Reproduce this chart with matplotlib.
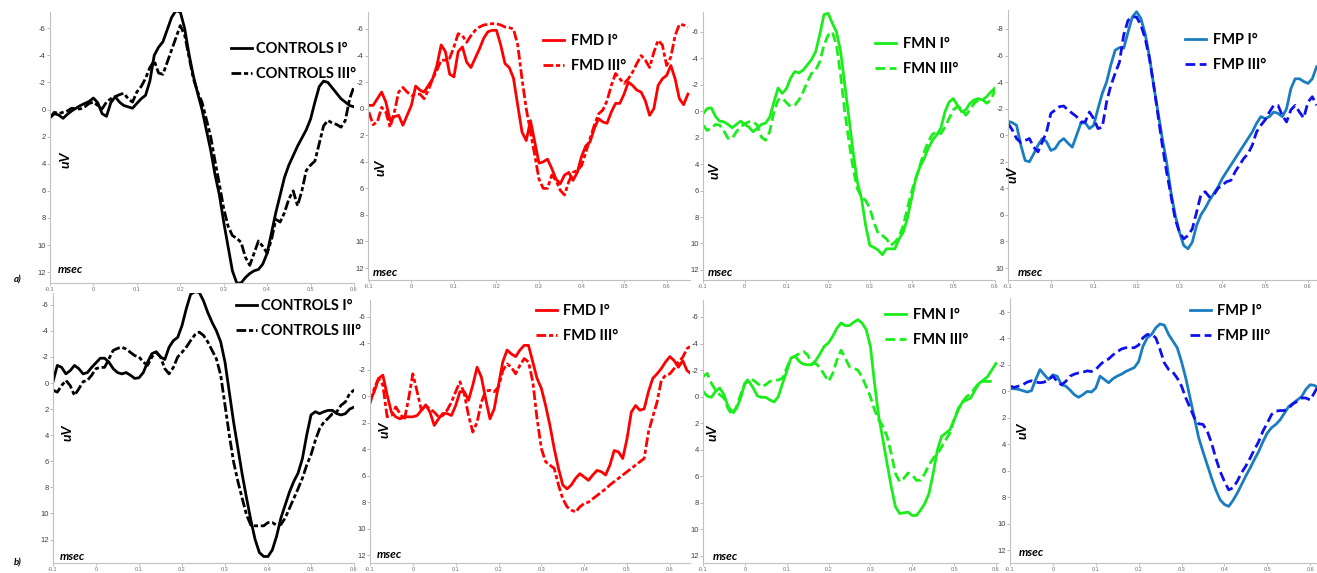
import numpy as np
import matplotlib
matplotlib.use('Agg')
import matplotlib.pyplot as plt
from matplotlib.font_manager import FontProperties

plt.rcParams['font.family'] = ['Liberation Sans', 'DejaVu Sans']
plt.rcParams['axes.unicode_minus'] = False

W, H = 1317, 573
t0, dt = -0.10, 0.01   # first sample time and step (s)

# ---- row a) ----
ctrl_a_I = [0.6, 0.3, 0.4, 0.65, 0.35, 0.1, -0.1, -0.3, -0.45, -0.6,
            -0.85, -0.5, 0.3, 0.5, -0.5, -0.95, -0.55, -0.3, -0.2, -0.1,
            -0.45, -0.8, -1.05, -2.1, -4.0, -4.6, -5.0, -5.9, -6.8, -7.3,
            -7.2, -6.0, -4.1, -2.5, -1.2, 0.0, 1.5, 3.0, 4.8, 6.3,
            8.3, 10.1, 11.9, 12.8, 12.8, 12.4, 12.1, 11.9, 11.8, 11.4,
            10.6, 9.1, 7.6, 6.3, 5.0, 4.1, 3.4, 2.7, 2.1, 1.5,
            0.7, -0.55, -1.7, -2.1, -2.0, -1.6, -1.2, -0.8, -0.55, -0.3,
            -0.2]
ctrl_a_III = [0.6, 0.2, 0.3, 0.2, 0.1, -0.1, -0.05, -0.05, -0.2, -0.45,
              -0.55, -0.3, -0.05, -0.55, -0.8, -0.95, -1.1, -1.2, -0.8, -0.55,
              -1.3, -1.7, -2.3, -3.1, -3.6, -2.7, -2.6, -3.5, -4.4, -5.3,
              -6.2, -5.5, -3.9, -2.3, -1.3, -0.55, 0.7, 2.0, 3.8, 5.5,
              7.3, 8.6, 9.3, 9.5, 9.8, 10.9, 11.5, 10.6, 9.7, 10.1,
              10.6, 9.6, 8.1, 8.3, 7.6, 6.6, 6.0, 7.1, 6.0, 4.5,
              4.1, 3.8, 2.5, 1.2, 0.8, 1.0, 1.1, 1.3, 0.8, -0.8,
              -1.7]
fmd_a_I = [-0.25, -0.25, -0.75, -1.25, -0.5, 0.9, 0.6, 0.5, 1.25, 0.5,
           -0.25, -1.7, -1.4, -1.25, -1.75, -2.25, -3.25, -4.8, -4.3, -2.6,
           -2.4, -4.3, -4.65, -3.5, -3.1, -3.8, -4.5, -5.3, -5.8, -5.9,
           -5.9, -4.8, -3.4, -3.1, -2.3, -0.25, 1.75, 2.4, 0.9, 2.5,
           4.1, 4.0, 3.8, 4.5, 5.3, 5.65, 5.0, 4.8, 5.4, 4.8,
           3.6, 2.8, 2.5, 1.5, 0.75, 1.0, 1.1, 0.25, -0.4, -0.4,
           -1.1, -2.0, -1.75, -1.4, -1.25, -0.6, 0.5, 0.0, -1.75, -2.25,
           -2.5, -3.25, -2.25, -0.75, -0.3, -1.1]
fmd_a_III = [0.25, 1.2, 1.0, -0.1, 0.25, 1.4, 0.25, -1.25, -1.6, -1.25,
             -1.0, -1.1, -1.1, -0.75, -1.4, -2.25, -2.9, -3.65, -3.65, -3.8,
             -4.65, -5.65, -5.5, -5.0, -5.5, -5.9, -6.15, -6.3, -6.35, -6.4,
             -6.4, -6.3, -6.15, -6.1, -6.0, -4.8, -2.25, 0.0, 1.75, 3.5,
             5.3, 6.0, 6.0, 5.0, 5.4, 6.15, 6.5, 5.5, 4.8, 4.65,
             4.3, 3.3, 2.25, 1.25, 0.4, 0.1, -0.6, -1.75, -2.65, -2.25,
             -1.9, -2.25, -2.75, -3.4, -4.0, -3.65, -3.1, -4.25, -5.15, -4.8,
             -3.25, -3.9, -5.5, -6.35, -6.3, -6.15]
fmn_a_I = [0.2, -0.2, -0.25, 0.4, 0.75, 0.8, 1.0, 1.25, 1.0, 0.75,
           1.0, 1.2, 1.55, 1.3, 1.0, 0.9, 0.45, -0.7, -1.75, -1.35,
           -1.7, -2.5, -3.0, -2.9, -3.1, -3.5, -3.9, -4.5, -5.8, -7.3,
           -7.4, -6.65, -6.0, -4.5, -2.0, 0.55, 3.1, 5.35, 6.6, 8.65,
           10.15, 10.3, 10.5, 10.85, 10.4, 10.4, 10.4, 9.65, 9.15, 8.1,
           6.6, 5.1, 4.2, 3.6, 2.8, 2.2, 1.8, 1.3, 0.05, -0.7,
           -0.95, -0.45, 0.05, -0.1, -0.6, -0.85, -0.95, -0.85, -1.1, -1.45,
           -1.75]
fmn_a_III = [1.05, 1.45, 1.3, 1.0, 1.05, 1.5, 2.05, 2.05, 1.55, 1.2,
             0.95, 0.8, 0.8, 1.05, 1.95, 2.2, 1.55, 0.05, -0.85, -1.0,
             -0.65, -0.35, -0.45, -0.85, -1.45, -2.2, -2.85, -3.1, -3.75, -5.0,
             -5.75, -6.0, -5.0, -2.7, 0.05, 2.3, 4.35, 5.85, 6.5, 6.75,
             7.35, 8.4, 9.25, 9.4, 9.65, 10.15, 9.9, 9.5, 8.65, 7.35,
             6.1, 5.1, 4.1, 3.1, 2.3, 1.75, 1.55, 1.7, 1.2, 0.55,
             -0.1, -0.35, -0.2, 0.3, -0.1, -0.6, -0.85, -0.9, -0.6, -0.85,
             -1.6]
fmp_a_I = [-1.05, -0.95, -0.75, 0.75, 1.9, 2.0, 1.4, 0.75, 0.25, 0.5,
           1.15, 1.0, 0.5, 0.25, 0.6, 0.9, 0.0, -0.9, -0.95, -0.5,
           -0.75, -2.0, -3.15, -4.0, -5.3, -6.4, -6.6, -6.55, -7.75, -8.9,
           -9.3, -8.8, -7.65, -5.9, -3.75, -1.75, 0.25, 2.0, 4.25, 6.0,
           7.3, 8.3, 8.55, 8.05, 6.8, 6.0, 5.5, 4.9, 4.4, 3.9,
           3.25, 2.75, 2.25, 1.75, 1.25, 0.75, 0.25, -0.25, -0.9, -1.4,
           -1.25, -1.4, -1.75, -1.65, -1.4, -2.0, -3.5, -4.25, -4.25, -4.05,
           -3.9, -4.25, -5.15]
fmp_a_III = [-0.9, -0.4, 0.25, 0.55, 0.4, 0.25, 0.9, 1.25, 0.5, -0.25,
             -1.65, -1.9, -2.15, -2.2, -1.9, -1.65, -1.4, -1.0, -1.0, -1.75,
             -1.25, -0.5, -0.6, -2.5, -3.75, -4.65, -5.5, -7.55, -8.65, -8.9,
             -8.9, -8.3, -7.3, -5.8, -3.75, -1.5, 0.75, 2.75, 4.5, 6.3,
             7.3, 7.8, 7.55, 7.05, 5.8, 4.5, 4.25, 4.65, 4.5, 4.0,
             3.75, 3.5, 3.4, 2.75, 2.25, 1.75, 1.4, 0.75, -0.25, -0.75,
             -1.15, -1.75, -2.25, -2.25, -1.5, -1.0, -1.9, -2.25, -1.75, -1.3,
             -2.5, -2.9, -2.25]

# ---- row b) ----
ctrl_b_I = [-0.1, -1.35, -1.2, -0.7, -0.95, -1.35, -1.1, -0.7, -0.8, -1.2,
            -1.55, -1.9, -1.9, -1.6, -1.1, -0.8, -0.7, -0.8, -0.6, -0.35,
            -0.4, -0.8, -1.6, -2.25, -2.4, -2.0, -1.8, -2.75, -3.25, -3.5,
            -4.4, -5.7, -6.8, -7.0, -6.95, -6.3, -5.4, -4.65, -4.0, -3.15,
            -1.6, 0.7, 3.0, 5.0, 7.0, 8.8, 10.5, 12.0, 13.0, 13.3,
            13.3, 12.8, 11.75, 10.35, 9.35, 8.35, 7.55, 6.9, 5.8, 4.0,
            2.45, 2.2, 2.35, 2.2, 2.1, 2.1, 2.35, 2.45, 2.35, 2.0,
            1.85, 2.0]
ctrl_b_III = [0.55, 0.7, 0.2, -0.2, 0.2, 0.95, 0.45, -0.1, -0.2, -0.6,
              -1.1, -1.2, -1.2, -1.85, -2.5, -2.65, -2.75, -2.6, -2.35, -2.1,
              -2.0, -1.6, -1.35, -2.0, -2.35, -2.0, -1.1, -0.7, -1.2, -2.0,
              -2.35, -2.75, -3.25, -3.7, -3.9, -3.65, -3.15, -2.5, -1.85, -0.6,
              1.7, 4.0, 6.05, 7.55, 8.85, 10.1, 10.9, 10.95, 10.95, 10.95,
              10.7, 10.7, 10.9, 10.85, 10.35, 9.6, 8.85, 8.1, 7.3, 6.3,
              5.5, 4.4, 3.5, 3.0, 2.7, 2.35, 2.2, 1.7, 1.45, 0.8,
              0.55, 0.95]
fmd_b_I = [0.3, -0.35, -1.35, -1.6, -0.1, 1.2, 1.55, 1.7, 1.55, 1.55,
           1.55, 1.45, 1.05, 0.65, 1.2, 2.2, 1.7, 1.3, 1.3, 1.45,
           0.7, -0.35, -0.35, 0.3, -0.85, -2.2, -1.45, 0.2, 1.7, 0.95,
           -0.85, -2.6, -3.5, -3.2, -3.0, -3.5, -3.85, -3.85, -2.6, -1.35,
           -0.6, 0.7, 2.2, 3.95, 5.45, 6.7, 7.0, 6.7, 6.2, 5.85,
           6.1, 6.35, 5.95, 5.6, 5.7, 5.95, 5.2, 4.1, 4.2, 4.7,
           3.2, 1.2, 0.7, 1.05, 0.95, -0.35, -1.35, -1.7, -2.1, -2.6,
           -3.0, -2.7, -2.2, -2.7, -1.95, -1.7]
fmd_b_III = [0.55, -0.6, -1.35, -0.85, 1.55, 1.45, 0.8, 1.3, 1.8, 0.2,
             -1.7, -0.35, 1.05, 0.7, 0.95, 1.2, 1.55, 1.45, 1.05, 0.45,
             -0.35, -1.1, -0.2, 1.45, 2.7, 1.95, 0.45, -0.4, -0.45, -0.35,
             -0.7, -1.95, -2.45, -2.2, -1.7, -2.35, -2.85, -2.6, -1.1, 1.7,
             3.95, 4.95, 5.2, 5.45, 6.7, 7.75, 8.35, 8.6, 8.75, 8.35,
             8.1, 8.0, 7.75, 7.5, 7.25, 7.0, 6.7, 6.45, 6.2, 5.95,
             5.7, 5.45, 5.2, 4.95, 4.7, 2.7, 1.55, 0.45, -1.2, -1.6,
             -1.7, -2.1, -2.6, -2.95, -3.6, -3.85]
fmn_b_I = [-0.4, -0.05, 0.05, -0.4, -0.65, -0.15, 0.75, 1.15, 0.9, 0.1,
           -1.0, -1.15, -0.65, -0.05, 0.05, 0.05, 0.25, 0.4, 0.0, -1.0,
           -1.9, -2.9, -3.05, -2.65, -2.45, -2.4, -2.4, -2.75, -3.25, -3.8,
           -4.05, -4.55, -5.15, -5.55, -5.35, -5.35, -5.6, -5.8, -5.55, -5.05,
           -3.8, -1.0, 1.5, 3.25, 5.05, 6.8, 8.3, 8.8, 8.75, 8.7,
           8.95, 8.95, 8.55, 8.05, 7.3, 5.8, 4.05, 3.0, 2.75, 2.5,
           1.75, 1.0, 0.4, 0.25, 0.1, -0.5, -1.0, -1.25, -1.5, -2.0,
           -2.5]
fmn_b_III = [-1.5, -1.75, -1.0, -0.5, -0.15, 0.1, 0.9, 1.4, 0.75, -0.15,
             -1.0, -1.4, -1.25, -1.0, -0.75, -0.9, -1.15, -1.25, -1.25, -1.4,
             -2.15, -2.9, -3.05, -3.25, -3.4, -3.15, -2.5, -2.5, -2.15, -1.65,
             -1.15, -1.75, -2.75, -3.5, -2.9, -2.25, -2.15, -2.0, -1.5, -0.75,
             0.0, 1.0, 1.75, 2.25, 3.0, 4.3, 5.8, 6.4, 6.15, 5.75,
             5.9, 6.3, 6.3, 5.8, 5.15, 4.65, 4.3, 3.8, 3.25, 2.75,
             1.75, 0.9, 0.4, 0.0, -0.25, -0.65, -1.05, -1.15, -1.15, -1.15,
             -1.15]
fmp_b_I = [-0.2, -0.2, -0.15, -0.05, 0.05, -0.05, -0.9, -1.65, -1.25, -0.9,
           -1.25, -1.15, -0.5, -0.4, -0.1, 0.25, 0.45, 0.25, 0.0, 0.05,
           -0.25, -1.15, -0.9, -0.65, -0.95, -1.15, -1.3, -1.5, -1.65, -1.8,
           -2.25, -3.4, -4.05, -4.3, -4.8, -5.1, -5.0, -4.3, -3.8, -3.3,
           -2.25, -1.0, 0.5, 2.0, 3.5, 4.55, 5.55, 6.55, 7.45, 8.2,
           8.55, 8.7, 8.25, 7.7, 7.05, 6.4, 5.8, 5.15, 4.55, 3.8,
           3.15, 2.75, 2.5, 2.15, 1.65, 1.15, 0.9, 0.65, 0.4, -0.15,
           -0.5, -0.45, -0.25]
fmp_b_III = [-0.4, -0.3, -0.4, -0.5, -0.7, -0.8, -0.7, -0.65, -0.7, -0.9,
             -1.15, -0.75, -0.5, -0.75, -1.15, -1.3, -1.4, -1.45, -1.55, -1.5,
             -1.65, -2.0, -2.3, -2.45, -2.75, -3.0, -3.2, -3.3, -3.3, -3.3,
             -3.5, -4.05, -4.3, -4.3, -4.05, -3.15, -2.15, -1.65, -1.45, -1.0,
             -0.4, 0.5, 1.25, 2.0, 2.45, 2.5, 3.0, 3.9, 5.05, 6.05,
             6.8, 7.45, 7.3, 6.8, 6.15, 5.65, 5.05, 4.4, 3.8, 3.0,
             2.4, 1.75, 1.5, 1.45, 1.45, 1.25, 0.95, 0.75, 0.5, 0.5,
             0.65, 0.1, -0.5]

group_names = ['CONTROLS', 'FMD', 'FMN', 'FMP']
xtick_vals = [-0.1, 0, 0.1, 0.2, 0.3, 0.4, 0.5, 0.6]
xtick_labels = ['-0.1', '0', '0.1', '0.2', '0.3', '0.4', '0.5', '0.6']

dashdot = (0, (3.5, 1.0, 1.5, 1.0))
dashed = (0, (3.5, 1.6))

# one entry per panel: data, colours, axes box in pixels (x0, x1, top, bottom),
# xlim, ylim (inverted), y ticks, legend anchor (x, top) and label spots
panels = [
    dict(I=ctrl_a_I, III=ctrl_a_III, g=0, c=('#000000', '#000000'), ls=dashdot,
         box=(50, 354, 12, 283), xl=(-0.1, 0.6), yl=(12.8, -7.2), yt=range(-6, 13, 2),
         leg=(231, 42), hp=0.25, uv=(66, 160), ms=(58, 270)),
    dict(I=fmd_a_I, III=fmd_a_III, g=1, c=('#ff0000', '#ff0000'), ls=dashdot,
         box=(368, 690, 12, 280), xl=(-0.102, 0.655), yl=(12.9, -7.28), yt=range(-6, 13, 2),
         leg=(543, 34), hp=0.45, uv=(381, 168), ms=(373, 272)),
    dict(I=fmn_a_I, III=fmn_a_III, g=2, c=('#1aee1a', '#1aee1a'), ls=dashed,
         box=(703, 995, 12, 280), xl=(-0.1, 0.6), yl=(12.76, -7.5), yt=range(-6, 13, 2),
         leg=(875, 37), hp=0.45, uv=(715, 171), ms=(708, 273)),
    dict(I=fmp_a_I, III=fmp_a_III, g=3, c=('#1a7dc0', '#1010ee'), ls=dashed,
         box=(1008, 1317, 10, 280), xl=(-0.1, 0.621), yl=(10.9, -9.43), yt=range(-8, 11, 2),
         leg=(1185, 33), hp=0.45, uv=(1013, 175), ms=(1018, 272)),
    dict(I=ctrl_b_I, III=ctrl_b_III, g=0, c=('#000000', '#000000'), ls=dashdot,
         box=(53, 354, 293, 563), xl=(-0.1, 0.6), yl=(13.8, -6.9), yt=range(-6, 13, 2),
         leg=(236, 299), hp=0.25, uv=(68, 433), ms=(60, 557)),
    dict(I=fmd_b_I, III=fmd_b_III, g=1, c=('#ff0000', '#ff0000'), ls=dashdot,
         box=(370, 690, 300, 563), xl=(-0.1, 0.647), yl=(12.6, -7.28), yt=range(-6, 13, 2),
         leg=(536, 304), hp=0.4, uv=(385, 430), ms=(377, 554)),
    dict(I=fmn_b_I, III=fmn_b_III, g=2, c=('#1aee1a', '#1aee1a'), ls=dashed,
         box=(703, 998, 300, 563), xl=(-0.1, 0.605), yl=(12.53, -7.28), yt=range(-6, 13, 2),
         leg=(885, 308), hp=0.45, uv=(713, 433), ms=(713, 557)),
    dict(I=fmp_b_I, III=fmp_b_III, g=3, c=('#1a7dc0', '#1010ee'), ls=dashed,
         box=(1010, 1317, 298, 563), xl=(-0.1, 0.616), yl=(12.98, -7.06), yt=range(-6, 13, 2),
         leg=(1190, 304), hp=0.4, uv=(1023, 431), ms=(1019, 553)),
]

fig = plt.figure(figsize=(W / 100, H / 100), dpi=100)
fig.patch.set_facecolor('white')

leg_font = FontProperties(family=['Lato', 'DejaVu Sans'], weight='bold', size=10.5)
lab_font = FontProperties(family=['Lato', 'DejaVu Sans'], weight='bold', style='italic', size=8.5)
uv_font = FontProperties(family=['Lato', 'DejaVu Sans'], weight='bold', style='italic', size=10)

for p in panels:
    x0, x1, top, bot = p['box']
    ax = fig.add_axes([x0 / W, 1 - bot / H, (x1 - x0) / W, (bot - top) / H])
    ax.patch.set_alpha(0)
    t_I = t0 + dt * np.arange(len(p['I']))
    t_III = t0 + dt * np.arange(len(p['III']))
    name = group_names[p['g']]
    l1, = ax.plot(t_I, p['I'], color=p['c'][0], lw=2.0, label=name + ' I°')
    l2, = ax.plot(t_III, p['III'], color=p['c'][1], lw=2.0, ls=p['ls'], label=name + ' III°')
    ax.set_xlim(*p['xl'])
    ax.set_ylim(*p['yl'])
    ax.set_yticks(list(p['yt']))
    ax.set_xticks(xtick_vals)
    ax.set_xticklabels(xtick_labels)
    for s in ['top', 'right']:
        ax.spines[s].set_visible(False)
    for s in ['left', 'bottom']:
        ax.spines[s].set_color('#c0c0c0')
        ax.spines[s].set_linewidth(0.8)
    ax.tick_params(axis='y', length=2, width=0.6, color='#b0b0b0', labelsize=5.5,
                   labelcolor='#404040', pad=1)
    ax.tick_params(axis='x', length=2, width=0.5, color='#b0b0b0', labelsize=4,
                   labelcolor='#707070', pad=1)
    lx, ly = p['leg']
    ax.legend(handles=[l1, l2], loc='upper left', bbox_to_anchor=(lx / W, 1 - ly / H),
              bbox_transform=fig.transFigure, frameon=False, borderpad=0, borderaxespad=0,
              handlelength=1.45, handletextpad=p['hp'], labelspacing=0.75, prop=leg_font)
    fig.text(p['uv'][0] / W, 1 - p['uv'][1] / H, 'uV', rotation=90, ha='center', va='center',
             fontproperties=uv_font)
    fig.text(p['ms'][0] / W, 1 - p['ms'][1] / H, 'msec', ha='left', va='center',
             fontproperties=lab_font)

small_font = FontProperties(family=['Lato', 'DejaVu Sans'], weight='bold', style='italic', size=7)
fig.text(14 / W, 1 - 280 / H, 'a)', ha='left', va='center', fontproperties=small_font)
fig.text(14 / W, 1 - 563 / H, 'b)', ha='left', va='center', fontproperties=small_font)

fig.savefig('out.png', dpi=100)
